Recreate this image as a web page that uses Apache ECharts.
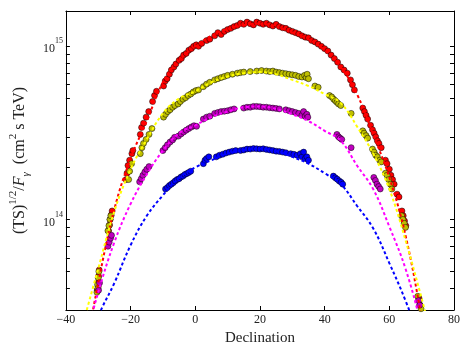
<!DOCTYPE html>
<html>
<head>
<meta charset="utf-8">
<script src="https://cdn.jsdelivr.net/npm/echarts@6/dist/echarts.min.js"></script>
<style>
  html, body { margin: 0; padding: 0; background: #fff; }
  #chart { width: 471px; height: 353px; }
</style>
</head>
<body>
<div id="chart"></div>
<script>
const decGrid = [-34, -30, -25, -20, -15, -10, -5, 0, 5, 10, 15, 20, 25, 30, 35, 40, 45, 50, 55, 60, 65, 70, 72]

// dashed curves
const curveRed = [1.7e13, 4.3e13, 1.15e14, 2.25e14, 3.7e14, 6.2e14, 8.3e14, 1.0e15, 1.15e15, 1.26e15, 1.33e15, 1.35e15, 1.3e15, 1.2e15, 1.1e15, 9.5e14, 7.6e14, 5.3e14, 3.1e14, 1.75e14, 8.1e13, 2.7e13, 1.6e13]
const curveYellow = [2.8e13, 5.2e13, 1.12e14, 1.95e14, 2.9e14, 4.1e14, 5.0e14, 5.5e14, 6.2e14, 6.7e14, 7.0e14, 7.1e14, 6.9e14, 6.4e14, 5.9e14, 5.3e14, 4.7e14, 3.45e14, 2.4e14, 1.5e14, 7.6e13, 3.5e13, 2.5e13]
const curveMagenta = [2.0e13, 3.8e13, 7.4e13, 1.23e14, 1.82e14, 2.5e14, 3.15e14, 3.5e14, 3.9e14, 4.2e14, 4.45e14, 4.5e14, 4.35e14, 4.05e14, 3.7e14, 3.25e14, 2.85e14, 2.05e14, 1.5e14, 9.1e13, 5.2e13, 2.4e13, 1.6e13]
const curveBlue = [1.6e13, 2.75e13, 4.3e13, 7.1e13, 1.05e14, 1.38e14, 1.74e14, 2.0e14, 2.2e14, 2.4e14, 2.52e14, 2.56e14, 2.48e14, 2.3e14, 2.1e14, 1.85e14, 1.6e14, 1.2e14, 8.9e13, 5.6e13, 3.4e13, 1.9e13, 1.5e13]

// individual sources [declination, value]
const ptsRed = [
  [-30.3, 3.9e13], [-30.1, 4.3e13], [-29.9, 4.7e13], [-29.7, 5.1e13], [-30.0, 4.1e13],
  [-26.8, 8.6e13], [-26.5, 9.3e13], [-26.3, 1.0e14], [-26.0, 1.06e14], [-25.7, 1.12e14],
  [-21.4, 1.7e14], [-21.1, 1.85e14], [-20.8, 2.05e14], [-20.3, 2.2e14], [-19.6, 2.4e14], [-19.3, 2.5e14],
  [-17.0, 3.1e14], [-16.6, 3.4e14], [-16.0, 3.6e14], [-15.2, 3.9e14], [-14.4, 4.2e14], [-13.2, 4.8e14], [-12.6, 5.2e14], [-12.0, 5.5e14],
  [-9.8, 5.9e14], [-9.3, 6.3e14], [-8.7, 6.5e14], [-8.0, 6.9e14], [-7.4, 7.3e14], [-6.6, 7.6e14], [-6.0, 7.9e14],
  [-5.0, 8.3e14], [-4.3, 8.5e14], [-3.6, 8.9e14], [-2.8, 9.1e14], [-2.0, 9.5e14], [-1.2, 9.7e14], [-0.5, 1.0e15], [0.3, 1.02e15],
  [1.0, 1.0e15], [2.0, 1.04e15], [3.5, 1.08e15], [4.5, 1.1e15], [6.0, 1.15e15], [7.0, 1.2e15], [8.0, 1.17e15], [9.0, 1.22e15],
  [10, 1.25e15], [11, 1.27e15], [12, 1.3e15], [13, 1.32e15], [14, 1.36e15], [15, 1.34e15], [16, 1.38e15], [17, 1.35e15],
  [18, 1.33e15], [19, 1.38e15], [20, 1.36e15], [21, 1.34e15], [22, 1.36e15], [23, 1.33e15], [24, 1.31e15], [25, 1.34e15],
  [26, 1.3e15], [27, 1.28e15], [28, 1.27e15], [29, 1.24e15], [30, 1.22e15], [31, 1.2e15], [32, 1.18e15], [33, 1.15e15],
  [34, 1.13e15], [35, 1.12e15], [36, 1.08e15], [37, 1.06e15], [38, 1.03e15], [39, 1.0e15], [40, 9.7e14], [41, 9.4e14],
  [42, 8.9e14], [43, 8.5e14], [44, 8.1e14], [45, 7.6e14], [46, 7.3e14], [47, 7.0e14], [48, 6.4e14], [48.6, 6.0e14], [49.2, 5.6e14],
  [51.8, 4.4e14], [52.3, 4.2e14], [52.8, 4.0e14], [53.3, 3.8e14], [54.2, 3.5e14], [54.8, 3.3e14], [55.3, 3.15e14],
  [55.8, 3.0e14], [56.3, 2.85e14], [56.8, 2.75e14], [57.5, 2.6e14],
  [58.8, 2.2e14], [59.3, 2.1e14], [60.0, 1.95e14], [60.5, 1.8e14], [61.0, 1.7e14], [61.5, 1.6e14], [62.4, 1.4e14], [63.0, 1.35e14],
  [63.9, 1.12e14], [64.3, 1.05e14], [64.7, 9.8e13], [65.1, 9.2e13],
  [69.2, 3.5e13], [69.5, 3.2e13]
]
const ptsYellow = [
  [-30.4, 3.8e13], [-30.2, 4.2e13], [-30.0, 4.6e13], [-29.8, 5.0e13], [-30.1, 4.0e13],
  [-27.0, 8.6e13], [-26.7, 9.2e13], [-26.4, 1.0e14], [-26.1, 1.05e14],
  [-20.6, 1.7e14], [-20.3, 1.9e14], [-19.7, 2.1e14],
  [-17.0, 2.4e14], [-16.5, 2.6e14], [-16.0, 2.75e14], [-15.2, 2.9e14], [-14.3, 3.1e14], [-13.4, 3.35e14],
  [-9.8, 3.9e14], [-9.2, 4.05e14], [-8.5, 4.2e14], [-7.8, 4.3e14], [-7.0, 4.45e14], [-6.3, 4.55e14],
  [-5.3, 4.65e14], [-4.6, 4.8e14], [-3.8, 4.95e14], [-3.0, 5.05e14], [-2.2, 5.2e14], [-1.4, 5.3e14], [-0.6, 5.45e14], [0.2, 5.55e14],
  [1, 5.6e14], [2.5, 5.85e14], [3.5, 6.05e14], [4.5, 6.2e14], [6, 6.4e14], [7, 6.5e14], [8, 6.6e14], [9, 6.7e14],
  [10, 6.8e14], [11.5, 6.9e14], [13, 7.0e14], [14, 7.05e14], [15, 7.1e14], [17, 7.15e14], [19, 7.2e14], [20.5, 7.25e14],
  [22, 7.2e14], [23, 7.15e14], [24, 7.2e14], [25, 7.1e14], [26, 7.05e14], [27, 7.0e14], [28, 6.95e14], [29, 6.9e14],
  [30, 6.85e14], [31, 6.8e14], [32, 6.7e14], [33, 6.65e14], [33.8, 6.8e14], [34.3, 6.6e14], [34.6, 6.9e14], [35, 6.5e14],
  [37, 5.9e14], [38, 5.8e14],
  [41.5, 5.2e14], [42.2, 5.1e14], [42.8, 4.95e14], [43.3, 4.85e14], [43.8, 4.75e14], [44.3, 4.65e14], [45.0, 4.55e14],
  [48.2, 4.1e14],
  [51.8, 3.25e14], [52.2, 3.15e14], [52.8, 3.05e14], [53.3, 2.95e14],
  [54.8, 2.55e14], [55.3, 2.45e14], [55.8, 2.35e14], [56.3, 2.3e14], [57.0, 2.2e14], [57.5, 2.15e14],
  [58.8, 1.85e14], [59.3, 1.8e14], [59.8, 1.7e14], [60.3, 1.6e14], [60.8, 1.5e14],
  [63.8, 1.05e14], [64.2, 1.0e14], [64.6, 9.5e13], [65.0, 9.0e13],
  [68.8, 3.6e13], [69.2, 3.4e13], [69.5, 3.2e13], [69.8, 3.05e13]
]
const ptsMagenta = [
  [-29.9, 3.9e13], [-29.6, 4.3e13],
  [-27.0, 7.0e13], [-26.6, 7.4e13], [-26.2, 7.8e13], [-25.9, 8.1e13],
  [-17.2, 1.65e14], [-16.7, 1.72e14], [-16.2, 1.8e14], [-15.6, 1.88e14], [-15.0, 1.95e14], [-14.3, 2.02e14],
  [-10.0, 2.5e14], [-9.3, 2.6e14], [-8.6, 2.7e14], [-7.8, 2.8e14], [-7.0, 2.88e14], [-6.4, 2.98e14],
  [-5.2, 3.03e14], [-4.4, 3.12e14], [-3.6, 3.2e14], [-2.8, 3.28e14], [-2.0, 3.35e14], [-1.2, 3.42e14], [-0.4, 3.48e14], [0.4, 3.45e14],
  [2.5, 3.8e14], [3.5, 3.9e14], [4.5, 3.95e14], [6, 4.1e14], [7, 4.15e14], [8, 4.2e14], [9, 4.22e14], [10, 4.25e14],
  [11, 4.3e14], [12, 4.35e14],
  [15, 4.4e14], [16, 4.45e14], [17, 4.45e14], [18, 4.5e14], [19, 4.5e14], [20, 4.48e14], [21, 4.45e14], [22, 4.45e14],
  [23, 4.42e14], [24, 4.4e14], [25, 4.38e14], [26, 4.35e14], [28, 4.3e14], [29, 4.25e14], [30, 4.2e14], [31, 4.15e14],
  [32, 4.1e14], [33, 4.0e14], [33.5, 4.2e14], [34, 3.95e14], [34.5, 4.05e14], [34.8, 3.9e14],
  [43.8, 3.1e14], [44.3, 3.0e14], [44.8, 2.95e14], [45.3, 2.9e14],
  [48.2, 2.6e14],
  [55.2, 1.75e14], [55.7, 1.68e14], [56.2, 1.6e14], [56.7, 1.55e14], [57.2, 1.5e14],
  [69.0, 3.4e13], [69.4, 3.2e13]
]
const ptsBlue = [
  [-9.2, 1.5e14], [-8.6, 1.53e14], [-8.0, 1.57e14], [-7.4, 1.6e14], [-6.8, 1.63e14], [-6.2, 1.67e14], [-5.6, 1.7e14],
  [-5.0, 1.72e14], [-4.4, 1.76e14], [-3.8, 1.78e14], [-3.2, 1.82e14], [-2.6, 1.84e14], [-2.0, 1.87e14], [-1.4, 1.9e14],
  [2.5, 2.1e14], [3.0, 2.2e14], [3.5, 2.25e14], [4.2, 2.3e14],
  [6.5, 2.3e14], [7.5, 2.35e14], [8.5, 2.38e14], [9.5, 2.42e14], [10.5, 2.45e14], [11.5, 2.48e14], [12.5, 2.5e14],
  [14, 2.5e14], [15, 2.52e14], [16, 2.55e14], [17, 2.55e14], [18, 2.57e14], [19, 2.56e14], [20, 2.55e14], [21, 2.56e14],
  [22, 2.54e14], [23, 2.52e14], [24, 2.5e14], [25, 2.48e14], [26, 2.47e14], [27, 2.45e14], [28, 2.43e14], [29.5, 2.4e14],
  [30.5, 2.38e14], [31.5, 2.35e14], [32.5, 2.4e14], [33, 2.3e14], [33.5, 2.45e14], [34, 2.25e14], [34.5, 2.3e14], [35, 2.2e14],
  [42.7, 1.78e14], [43.3, 1.74e14], [43.9, 1.71e14], [44.5, 1.67e14], [45.1, 1.64e14], [45.6, 1.6e14]
]

// axis ticks
const xTicks = [-40, -20, 0, 20, 40, 60, 80]
const yMinorTicks = [3e13, 4e13, 5e13, 6e13, 7e13, 8e13, 9e13, 1e14, 2e14, 3e14, 4e14, 5e14, 6e14, 7e14, 8e14, 9e14, 1e15]
const yLabels = [1e14, 1e15]

const serif = "'Liberation Serif', 'DejaVu Serif', serif"

const chart = echarts.init(document.getElementById('chart'))

const curve = vals => decGrid.map((d, i) => [d, vals[i]])

function dashed(name, vals, color) {
  return {
    name: name,
    type: 'line',
    data: curve(vals),
    smooth: 0.4,
    showSymbol: false,
    clip: true,
    z: 3,
    lineStyle: { color: color, width: 2, type: [3, 2.5] }
  }
}

function dots(name, pts, color) {
  return {
    name: name,
    type: 'scatter',
    data: pts,
    symbolSize: 6,
    z: 2,
    itemStyle: { color: color, borderColor: '#000', borderWidth: 0.5, opacity: 1 }
  }
}

const tickStyle = { inside: true, length: 4, lineStyle: { color: '#000', width: 1 } }
const lineStyle = { onZero: false, lineStyle: { color: '#000', width: 1 } }

const option = {
  animation: false,
  backgroundColor: '#fff',
  grid: { left: 55, right: 17, top: 11, bottom: 43 },
  xAxis: [
    {
      type: 'value', min: -40, max: 80, interval: 20,
      axisLine: lineStyle,
      axisTick: Object.assign({ customValues: xTicks }, tickStyle),
      axisLabel: {
        color: '#222', fontFamily: serif, fontSize: 12, margin: 4,
        formatter: v => (v < 0 ? '\u2212' + Math.abs(v) : String(v))
      },
      splitLine: { show: false },
      name: 'Declination',
      nameLocation: 'middle',
      nameGap: 16,
      nameTextStyle: { color: '#222', fontFamily: serif, fontSize: 15 }
    },
    {
      type: 'value', position: 'top', min: -40, max: 80, interval: 20,
      axisLine: lineStyle,
      axisTick: tickStyle,
      axisLabel: { show: false },
      splitLine: { show: false }
    }
  ],
  yAxis: [
    {
      type: 'log', logBase: 10, min: 3e13, max: 1.6e15,
      axisLine: lineStyle,
      axisTick: Object.assign({ customValues: yMinorTicks }, tickStyle),
      axisLabel: {
        customValues: yLabels,
        margin: 3,
        formatter: v => '{b|10}{s|' + Math.round(Math.log10(v)) + '}',
        rich: {
          b: { fontFamily: serif, fontSize: 12, color: '#222', padding: [6, 0, 0, 0] },
          s: { fontFamily: serif, fontSize: 8, color: '#222', verticalAlign: 'top' }
        }
      },
      splitLine: { show: false },
      name: '{t|(TS)}{u|1/2}{t|/}{i|F}{d|\u03b3}{t|  (cm}{u|2}{t| s TeV)}',
      nameLocation: 'middle',
      nameGap: 32,
      nameTextStyle: {
        rich: {
          t: { fontFamily: serif, fontSize: 16, color: '#222', padding: [4, 0, 4, 0] },
          i: { fontFamily: serif, fontStyle: 'italic', fontSize: 16, color: '#222', padding: [4, 0, 4, 0] },
          u: { fontFamily: serif, fontSize: 11, color: '#222', verticalAlign: 'top' },
          d: { fontFamily: serif, fontStyle: 'italic', fontSize: 11, color: '#222', verticalAlign: 'bottom' }
        }
      }
    },
    {
      type: 'log', logBase: 10, min: 3e13, max: 1.6e15, position: 'right',
      axisLine: lineStyle,
      axisTick: Object.assign({ customValues: yMinorTicks }, tickStyle),
      axisLabel: { show: false },
      splitLine: { show: false }
    }
  ],
  series: [
    dots('red pts', ptsRed, '#ff0000'),
    dots('yellow pts', ptsYellow, '#bfbf00'),
    dots('magenta pts', ptsMagenta, '#bf00bf'),
    dots('blue pts', ptsBlue, '#0000ff'),
    dashed('red', curveRed, '#ff0000'),
    dashed('yellow', curveYellow, '#ffff00'),
    dashed('magenta', curveMagenta, '#ff00ff'),
    dashed('blue', curveBlue, '#0000ff')
  ]
}

chart.setOption(option)
</script>
</body>
</html>
